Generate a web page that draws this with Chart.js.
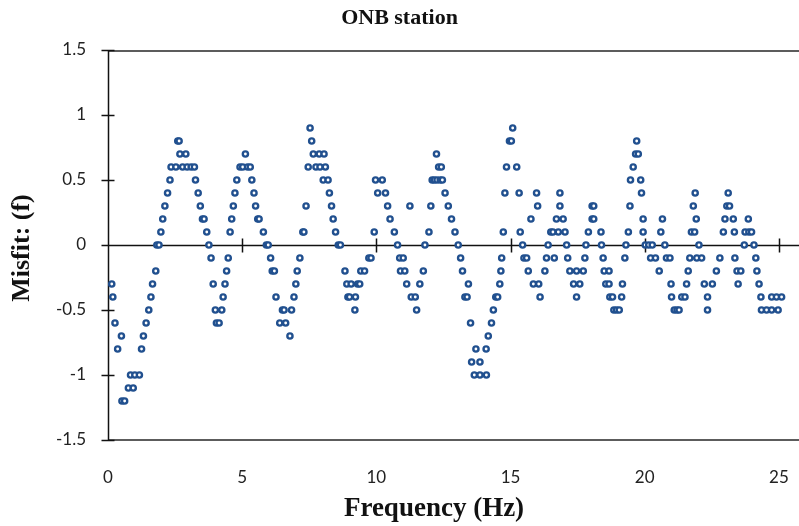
<!DOCTYPE html>
<html>
<head>
<meta charset="utf-8">
<title>ONB station</title>
<script src="https://cdn.jsdelivr.net/npm/chart.js@4.4.1/dist/chart.umd.min.js"></script>
<style>
    html, body { margin: 0; padding: 0; background: #fff; }
    #wrap { width: 799px; height: 526px; }
</style>
</head>
<body>
<div id="wrap"><canvas id="misfitChart" width="799" height="526"></canvas></div>
<script>
// misfit per frequency, split into 5 Hz bands
const freqA = [0.14, 0.18, 0.26, 0.36, 0.50, 0.52, 0.62, 0.76, 0.84, 0.94,
    1.00, 1.17, 1.25, 1.32, 1.42, 1.52, 1.60, 1.66, 1.78, 1.82,
    1.90, 1.97, 2.04, 2.12, 2.22, 2.31, 2.35, 2.53, 2.60, 2.65,
    2.68, 2.78, 2.90, 2.95, 3.10, 3.22, 3.26, 3.36, 3.44, 3.52,
    3.58, 3.68, 3.76, 3.84, 3.92, 4.00, 4.04, 4.14, 4.24, 4.29,
    4.36, 4.42, 4.48, 4.55, 4.61, 4.67, 4.73, 4.80, 4.92, 5.02,
    5.12, 5.20, 5.30, 5.36, 5.44, 5.50, 5.58, 5.63, 5.79, 5.90,
    5.97];
const misfitA = [-0.3, -0.4, -0.6, -0.8, -0.7, -1.2, -1.2, -1.1, -1.0, -1.1,
    -1.0, -1.0, -0.8, -0.7, -0.6, -0.5, -0.4, -0.3, -0.2, 0,
    0, 0.1, 0.2, 0.3, 0.4, 0.5, 0.6, 0.6, 0.8, 0.8,
    0.7, 0.6, 0.7, 0.6, 0.6, 0.6, 0.5, 0.4, 0.3, 0.2,
    0.2, 0.1, 0, -0.1, -0.3, -0.5, -0.6, -0.6, -0.5, -0.4,
    -0.3, -0.2, -0.1, 0.1, 0.2, 0.3, 0.4, 0.5, 0.6, 0.6,
    0.7, 0.6, 0.6, 0.5, 0.4, 0.3, 0.2, 0.2, 0.1, 0,
    0];

const freqB = [6.06, 6.12, 6.20, 6.26, 6.40, 6.50, 6.56, 6.62, 6.78, 6.84,
    6.93, 7.00, 7.05, 7.15, 7.26, 7.30, 7.38, 7.46, 7.53, 7.59,
    7.65, 7.75, 7.87, 7.90, 8.02, 8.05, 8.10, 8.20, 8.25, 8.33,
    8.39, 8.48, 8.58, 8.66, 8.83, 8.90, 8.94, 9.00, 9.06, 9.20,
    9.22, 9.30, 9.38, 9.42, 9.56, 9.72, 9.80, 9.92, 9.97];
const misfitB = [-0.1, -0.2, -0.2, -0.4, -0.6, -0.5, -0.5, -0.6, -0.7, -0.5,
    -0.4, -0.3, -0.2, -0.1, 0.1, 0.1, 0.3, 0.6, 0.9, 0.8,
    0.7, 0.6, 0.7, 0.6, 0.5, 0.7, 0.6, 0.5, 0.4, 0.3,
    0.2, 0.1, 0, 0, -0.2, -0.3, -0.4, -0.4, -0.3, -0.5,
    -0.4, -0.3, -0.3, -0.2, -0.2, -0.1, -0.1, 0.1, 0.5];

const freqC = [10.05, 10.22, 10.34, 10.42, 10.51, 10.67, 10.79, 10.87, 10.90, 11.00,
    11.06, 11.13, 11.25, 11.30, 11.45, 11.50, 11.62, 11.75, 11.81, 11.96,
    12.03, 12.08, 12.16, 12.24, 12.26, 12.32, 12.38, 12.42, 12.46, 12.56,
    12.68, 12.80, 12.93, 13.05, 13.14, 13.21, 13.30, 13.38, 13.43, 13.51,
    13.55, 13.65, 13.71, 13.86, 13.86, 14.09, 14.10, 14.17, 14.29, 14.36,
    14.45, 14.52, 14.60, 14.64, 14.67, 14.73, 14.79, 14.85, 14.96, 15.03,
    15.08];
const misfitC = [0.4, 0.5, 0.4, 0.3, 0.2, 0.1, 0, -0.1, -0.2, -0.1,
    -0.2, -0.3, 0.3, -0.4, -0.4, -0.5, -0.3, -0.2, 0, 0.1,
    0.3, 0.5, 0.5, 0.7, 0.5, 0.6, 0.5, 0.6, 0.5, 0.4,
    0.3, 0.2, 0.1, 0, -0.1, -0.2, -0.4, -0.4, -0.3, -0.6,
    -0.9, -1.0, -0.8, -1.0, -0.9, -0.8, -1.0, -0.7, -0.6, -0.5,
    -0.4, -0.4, -0.3, -0.2, -0.1, 0.1, 0.4, 0.6, 0.8, 0.8,
    0.9];

const freqD = [15.23, 15.32, 15.36, 15.45, 15.50, 15.60, 15.66, 15.76, 15.85, 15.97,
    16.01, 16.05, 16.10, 16.28, 16.34, 16.40, 16.50, 16.58, 16.63, 16.71,
    16.78, 16.84, 16.84, 16.96, 17.03, 17.09, 17.13, 17.21, 17.35, 17.46,
    17.46, 17.58, 17.71, 17.77, 17.81, 17.90, 18.04, 18.10, 18.04, 18.10,
    18.37, 18.39, 18.45, 18.49, 18.55, 18.67, 18.67, 18.70, 18.80, 18.85,
    18.95, 19.05, 19.14, 19.17, 19.26, 19.30, 19.39, 19.45, 19.47, 19.57,
    19.66, 19.70, 19.76, 19.85, 19.88, 19.94, 19.94];
const misfitD = [0.6, 0.4, 0.1, 0, -0.1, -0.1, -0.2, 0.2, -0.3, 0.4,
    0.3, -0.3, -0.4, -0.2, -0.1, 0, 0.1, 0.1, -0.1, 0.2,
    0.1, 0.3, 0.4, 0.2, 0.1, 0, -0.1, -0.2, -0.3, -0.4,
    -0.2, -0.3, -0.2, -0.1, 0, 0.1, 0.2, 0.2, 0.3, 0.3,
    0.1, 0, -0.1, -0.2, -0.3, -0.2, -0.3, -0.4, -0.4, -0.5,
    -0.5, -0.5, -0.4, -0.3, -0.1, 0, 0.1, 0.3, 0.5, 0.6,
    0.7, 0.8, 0.7, 0.5, 0.4, 0.2, 0.1];

const freqE = [20.02, 20.15, 20.28, 20.22, 20.40, 20.54, 20.60, 20.66, 20.75, 20.81,
    20.94, 20.98, 21.00, 21.10, 21.20, 21.28, 21.38, 21.50, 21.56, 21.62,
    21.68, 21.74, 21.81, 21.86, 21.88, 21.92, 21.94, 22.02, 22.12, 22.22,
    22.34, 22.34, 22.52, 22.67, 22.80, 22.93, 22.99, 23.06, 23.11, 23.16,
    23.30, 23.34, 23.36, 23.44, 23.48, 23.58, 23.71, 23.74, 23.86, 23.88,
    23.98, 24.07, 24.14, 24.18, 24.26, 24.33, 24.35, 24.54, 24.73, 24.73,
    24.91, 24.97, 25.10];
const misfitE = [0, 0, 0, -0.1, -0.1, -0.2, 0.1, 0.2, 0, -0.1,
    -0.1, -0.3, -0.4, -0.5, -0.5, -0.5, -0.4, -0.4, -0.3, -0.2,
    -0.1, 0.1, 0.3, 0.1, 0.4, 0.2, -0.1, 0, -0.1, -0.3,
    -0.4, -0.5, -0.3, -0.2, -0.1, 0.1, 0.2, 0.3, 0.4, 0.3,
    0.2, 0.1, -0.1, -0.2, -0.3, -0.2, 0, 0.1, 0.2, 0.1,
    0.1, 0, -0.1, -0.2, -0.3, -0.4, -0.5, -0.5, -0.5, -0.4,
    -0.4, -0.5, -0.4];

const xTicks = [0, 5, 10, 15, 20, 25];
const yTicks = [-1.5, -1, -0.5, 0, 0.5, 1, 1.5];

function zip(fs, ms) {
    return fs.map((f, i) => ({ x: f, y: ms[i] }));
}

const points = [].concat(
    zip(freqA, misfitA), zip(freqB, misfitB), zip(freqC, misfitC),
    zip(freqD, misfitD), zip(freqE, misfitE)
);

const serif = 'Liberation Serif, Times New Roman, serif';
const sans = 'Lato, Liberation Sans, sans-serif';

// frame, zero axis with cross ticks, and axis titles
const axisFrame = {
    id: 'axisFrame',
    beforeDatasetsDraw(chart) {
        const { ctx, chartArea: a, scales: { x, y } } = chart;
        const y0 = Math.round(y.getPixelForValue(0)) + 0.5;
        const xl = Math.round(a.left) + 0.5;
        const right = chart.width;
        ctx.save();
        ctx.strokeStyle = '#5c5c5c';
        ctx.lineWidth = 2;
        ctx.beginPath();
        ctx.moveTo(a.left, a.top + 1); ctx.lineTo(right, a.top + 1);
        ctx.moveTo(a.left, a.bottom); ctx.lineTo(right, a.bottom);
        ctx.stroke();

        ctx.strokeStyle = '#111';
        ctx.lineWidth = 1.5;
        ctx.beginPath();
        ctx.moveTo(xl, a.top); ctx.lineTo(xl, a.bottom);
        ctx.moveTo(a.left, y0); ctx.lineTo(right, y0);
        yTicks.forEach(v => {
            const py = Math.round(y.getPixelForValue(v)) + 0.5;
            ctx.moveTo(xl - 7, py); ctx.lineTo(xl + 6, py);
        });
        xTicks.slice(1).forEach(v => {
            const px = Math.round(x.getPixelForValue(v)) + 0.5;
            ctx.moveTo(px, y0 - 7); ctx.lineTo(px, y0 + 7);
        });
        ctx.stroke();
        ctx.restore();
    },
    afterDraw(chart) {
        const ctx = chart.ctx;
        ctx.save();
        ctx.fillStyle = '#111';
        ctx.font = 'bold 27px ' + serif;
        ctx.textAlign = 'center';
        ctx.textBaseline = 'middle';
        ctx.fillText('Frequency (Hz)', 434, 509);
        ctx.font = 'bold 26px ' + serif;
        ctx.translate(22, 248);
        ctx.rotate(-Math.PI / 2);
        ctx.fillText('Misfit: (f)', 0, 0);
        ctx.restore();
    }
};

new Chart(document.getElementById('misfitChart'), {
    type: 'scatter',
    data: {
        datasets: [{
            label: 'Misfit',
            data: points,
            pointStyle: 'circle',
            pointRadius: 2.6,
            pointBorderWidth: 2.4,
            backgroundColor: '#ffffff',
            borderColor: '#21508f',
            clip: false
        }]
    },
    options: {
        responsive: false,
        animation: false,
        devicePixelRatio: 1,
        layout: { padding: 0 },
        plugins: {
            legend: { display: false },
            tooltip: { enabled: false },
            title: {
                display: true,
                text: 'ONB station',
                color: '#111',
                font: { family: serif, size: 22, weight: 'bold' },
                padding: { top: 5, bottom: 18.6 }
            }
        },
        scales: {
            x: {
                type: 'linear',
                min: 0,
                max: 25.51,
                grid: { display: false, drawTicks: true, tickLength: 25 },
                border: { display: false },
                afterBuildTicks: s => { s.ticks = xTicks.map(v => ({ value: v })); },
                afterFit: s => {
                    s.height = 86;
                    s.paddingLeft = 0;
                    s.paddingRight = 0;
                },
                ticks: {
                    padding: 2,
                    color: '#222',
                    font: { family: sans, size: 17 },
                    callback: v => String(v)
                }
            },
            y: {
                min: -1.5,
                max: 1.5,
                grid: { display: false, drawTicks: true, tickLength: 20 },
                border: { display: false },
                afterBuildTicks: s => { s.ticks = yTicks.map(v => ({ value: v })); },
                afterFit: s => { s.width = 108; },
                ticks: {
                    padding: 2,
                    color: '#222',
                    font: { family: sans, size: 17 },
                    callback: v => String(v)
                }
            }
        }
    },
    plugins: [axisFrame]
});
</script>
</body>
</html>
